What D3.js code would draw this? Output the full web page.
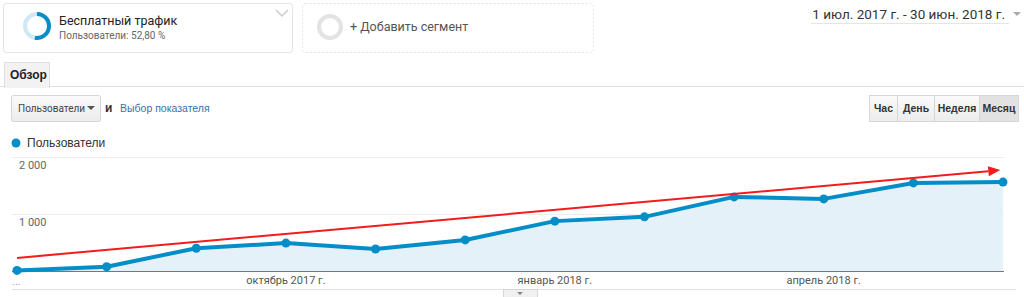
<!DOCTYPE html>
<html>
<head>
<meta charset="utf-8">
<script src="https://cdn.jsdelivr.net/npm/d3@7"></script>
<style>
  body { margin: 0; background: #fff; }
  svg { display: block; }
  text { font-family: Roboto, "Liberation Sans", Arial, sans-serif; }
  .ga { font-family: "Liberation Sans", Arial, sans-serif; }
</style>
</head>
<body>
<script>
// monthly users, Jul 2017 - Jun 2018
var months = ["июль 2017 г.", "август 2017 г.", "сентябрь 2017 г.", "октябрь 2017 г.",
  "ноябрь 2017 г.", "декабрь 2017 г.", "январь 2018 г.", "февраль 2018 г.",
  "март 2018 г.", "апрель 2018 г.", "май 2018 г.", "июнь 2018 г."];
var users = [10, 75, 400, 490, 385, 545, 875, 950, 1300, 1265, 1545, 1560];
var yTicks = [1000, 2000];
var xTickIdx = [3, 6, 9];
// hand drawn trend arrow, in data units [monthIndex, users]
var trendFrom = [0, 230];
var trendTo = [10.97, 1770];
var segmentShare = 52.80;
var periodButtons = ["Час", "День", "Неделя", "Месяц"];

var W = 1024, H = 297;
var blue = "#058dc7";

var svg = d3.select("body").append("svg").attr("width", W).attr("height", H);

var fmt = function(v) { return d3.format(",")(v).replace(",", " "); };

// ---- segment boxes ----
svg.append("rect").attr("x", 3.5).attr("y", 3.5).attr("width", 289).attr("height", 49)
  .attr("rx", 3).attr("fill", "#fff").attr("stroke", "#e3e3e3");
var ring = d3.arc().innerRadius(10).outerRadius(14);
var ringG = svg.append("g").attr("transform", "translate(37,26)");
ringG.append("path").attr("d", ring({ startAngle: 0, endAngle: 2 * Math.PI })).attr("fill", "#cfe8f5");
ringG.append("path").attr("d", ring({ startAngle: 0, endAngle: 2 * Math.PI * segmentShare / 100 })).attr("fill", blue);
svg.append("text").attr("x", 59).attr("y", 25).attr("font-size", 12.5).attr("fill", "#222").text("Бесплатный трафик");
svg.append("text").attr("x", 59).attr("y", 39).attr("font-size", 10).attr("fill", "#666")
  .text("Пользователи: " + segmentShare.toFixed(2).replace(".", ",") + " %");
svg.append("path").attr("d", "M276,10 L282,16 L288,10").attr("fill", "none").attr("stroke", "#ccc").attr("stroke-width", 1.5);

svg.append("rect").attr("x", 302.5).attr("y", 3.5).attr("width", 291).attr("height", 49)
  .attr("rx", 3).attr("fill", "#fff").attr("stroke", "#e3e3e3").attr("stroke-dasharray", "2,2");
svg.append("circle").attr("cx", 330).attr("cy", 27).attr("r", 11).attr("fill", "none")
  .attr("stroke", "#e3e3e3").attr("stroke-width", 4);
svg.append("text").attr("x", 350).attr("y", 31).attr("font-size", 12.5).attr("fill", "#555").text("+ Добавить сегмент");

// ---- date range ----
svg.append("text").attr("x", 1005).attr("y", 19).attr("text-anchor", "end").attr("font-size", 13.5)
  .attr("fill", "#333").text("1 июл. 2017 г. - 30 июн. 2018 г.");
svg.append("line").attr("x1", 811).attr("x2", 1009).attr("y1", 23.5).attr("y2", 23.5).attr("stroke", "#e5e5e5");
svg.append("path").attr("d", "M1013,12 L1021,12 L1017,16 Z").attr("fill", "#aaa");

// ---- tab ----
svg.append("line").attr("x1", 0).attr("x2", W).attr("y1", 86.5).attr("y2", 86.5).attr("stroke", "#e0e0e0");
svg.append("rect").attr("x", 4.5).attr("y", 62.5).attr("width", 45).attr("height", 25)
  .attr("fill", "#f2f2f2").attr("stroke", "#e0e0e0");
svg.append("rect").attr("x", 5).attr("y", 85).attr("width", 44).attr("height", 3).attr("fill", "#f2f2f2");
svg.append("text").attr("class", "ga").attr("x", 10).attr("y", 79).attr("font-size", 12)
  .attr("font-weight", "bold").attr("fill", "#222").text("Обзор");

// ---- metric picker ----
var grad = svg.append("defs").append("linearGradient").attr("id", "btn").attr("x1", 0).attr("x2", 0).attr("y1", 0).attr("y2", 1);
grad.append("stop").attr("offset", 0).attr("stop-color", "#fafafa");
grad.append("stop").attr("offset", 1).attr("stop-color", "#ececec");
svg.append("rect").attr("x", 11.5).attr("y", 95.5).attr("width", 89).attr("height", 26).attr("rx", 2)
  .attr("fill", "url(#btn)").attr("stroke", "#d6d6d6");
svg.append("text").attr("x", 18).attr("y", 112).attr("font-size", 10).attr("fill", "#444").text("Пользователи");
svg.append("path").attr("d", "M87,106 L95,106 L91,110 Z").attr("fill", "#555");
svg.append("text").attr("class", "ga").attr("x", 105).attr("y", 112).attr("font-size", 12).attr("font-weight", "bold").attr("fill", "#333").text("и");
svg.append("text").attr("class", "ga").attr("x", 120).attr("y", 112).attr("font-size", 10.5).attr("fill", "#3b6fa8").text("Выбор показателя");

// ---- period buttons ----
var btnW = [28, 37, 45, 39];
var bx = 869;
periodButtons.forEach(function(b, i) {
  var on = i === periodButtons.length - 1;
  svg.append("rect").attr("x", bx + 0.5).attr("y", 95.5).attr("width", btnW[i]).attr("height", 26)
    .attr("fill", on ? "#e2e2e2" : "url(#btn)").attr("stroke", "#d6d6d6");
  svg.append("text").attr("class", "ga").attr("x", bx + btnW[i] / 2 + 0.5).attr("y", 112).attr("text-anchor", "middle")
    .attr("font-size", 10.5).attr("font-weight", "bold").attr("fill", "#333").text(b);
  bx += btnW[i];
});

// ---- legend ----
svg.append("circle").attr("cx", 16).attr("cy", 143).attr("r", 4.5).attr("fill", blue);
svg.append("text").attr("class", "ga").attr("x", 27).attr("y", 147).attr("font-size", 12).attr("fill", "#333").text("Пользователи");

// ---- chart ----
var x = d3.scaleLinear().domain([0, months.length - 1]).range([17, 1003]);
var y = d3.scaleLinear().domain([0, 2000]).range([271, 157]);

var chart = svg.append("g").attr("class", "ga");

chart.selectAll(".grid").data(yTicks).enter().append("line")
  .attr("x1", 12).attr("x2", 1004)
  .attr("y1", function(d) { return Math.round(y(d)) + 0.5; })
  .attr("y2", function(d) { return Math.round(y(d)) + 0.5; })
  .attr("stroke", "#ececec");

chart.selectAll(".ylab").data(yTicks).enter().append("text")
  .attr("x", 19).attr("y", function(d) { return y(d) + 12; })
  .attr("font-size", 11).attr("fill", "#666").text(fmt);

var area = d3.area().x(function(d, i) { return x(i); }).y0(y(0)).y1(function(d) { return y(d); });
chart.append("path").datum(users).attr("d", area).attr("fill", "#e5f1f8");

chart.append("line").attr("x1", 12).attr("x2", 1004).attr("y1", y(0) + 0.5).attr("y2", y(0) + 0.5)
  .attr("stroke", "#777");

chart.append("line").attr("x1", 12).attr("x2", 1016).attr("y1", 289.5).attr("y2", 289.5).attr("stroke", "#e2e2e2");
chart.append("rect").attr("x", 503.5).attr("y", 289.5).attr("width", 34).attr("height", 9)
  .attr("fill", "#f0f0f0").attr("stroke", "#d6d6d6");
chart.append("path").attr("d", "M517,292 L523,292 L520,295 Z").attr("fill", "#888");

var line = d3.line().x(function(d, i) { return x(i); }).y(function(d) { return y(d); });
chart.append("path").datum(users).attr("d", line).attr("fill", "none")
  .attr("stroke", blue).attr("stroke-width", 4).attr("stroke-linejoin", "round");
chart.selectAll(".pt").data(users).enter().append("circle")
  .attr("cx", function(d, i) { return x(i); }).attr("cy", function(d) { return y(d); })
  .attr("r", 4.5).attr("fill", blue);

chart.selectAll(".xlab").data(xTickIdx).enter().append("text")
  .attr("x", function(d) { return x(d); }).attr("y", 284).attr("text-anchor", "middle")
  .attr("font-size", 11).attr("fill", "#555").text(function(d) { return months[d]; });
chart.append("text").attr("x", 12).attr("y", 285).attr("font-size", 11).attr("fill", "#aaa").text("...");

// ---- trend arrow ----
var tx1 = x(trendFrom[0]), ty1 = y(trendFrom[1]), tx2 = x(trendTo[0]), ty2 = y(trendTo[1]);
var ang = Math.atan2(ty2 - ty1, tx2 - tx1);
var headL = 12, headW = 5;
var bxp = tx2 - headL * Math.cos(ang), byp = ty2 - headL * Math.sin(ang);
svg.append("line").attr("x1", tx1).attr("y1", ty1).attr("x2", bxp).attr("y2", byp)
  .attr("stroke", "#f21c1c").attr("stroke-width", 2);
svg.append("path").attr("d", "M" + tx2 + "," + ty2 +
  "L" + (bxp + headW * Math.sin(ang)) + "," + (byp - headW * Math.cos(ang)) +
  "L" + (bxp - headW * Math.sin(ang)) + "," + (byp + headW * Math.cos(ang)) + "Z")
  .attr("fill", "#f21c1c");
</script>
</body>
</html>
